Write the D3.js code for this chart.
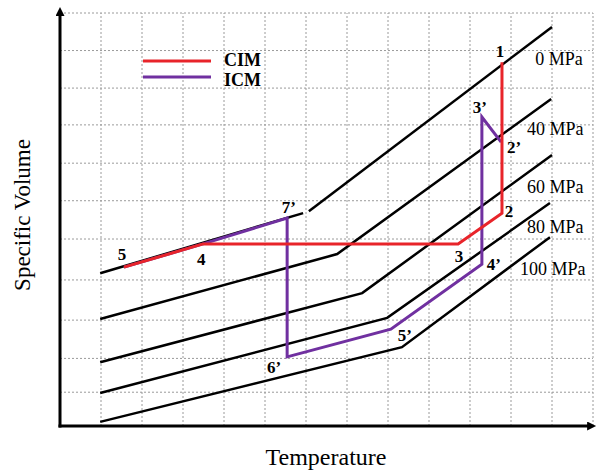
<!DOCTYPE html>
<html>
<head>
<meta charset="utf-8">
<script src="https://cdn.jsdelivr.net/npm/d3@7"></script>
<style>
  body { margin: 0; background: #fff; }
  svg { display: block; }
  text { font-family: "Liberation Serif", "Times New Roman", serif; }
</style>
</head>
<body>
<svg id="chart" width="598" height="473"></svg>
<script>
// grid levels (arbitrary units)
const gridX = [10, 20, 30, 40, 50, 60, 70, 80, 90, 100, 110, 120, 130];
const gridY = [9, 18, 28.2, 38.9, 49.8, 60, 70, 80.2, 90, 100, 110];

// isobars: each is a list of segments, each segment a list of [T, v]
const pressures = ["0 MPa", "40 MPa", "60 MPa", "80 MPa", "100 MPa"];
const isobars = [
  [[[9.8, 40.7], [59.3, 56.7]], [[60.7, 57.2], [120, 106.3]]],
  [[[9.8, 28.5], [67.6, 45.8], [119.8, 87.1]]],
  [[[9.8, 17.0], [73.7, 35.4], [120, 72.2]]],
  [[[9.8, 8.8], [79.8, 28.8], [119.5, 59.4]]],
  [[[9.8, 1.1], [83.4, 21.0], [119.5, 50.3]]]
];
const pressureLabelPos = [[115.9, 96.2], [113.9, 77.5], [113.9, 62.1], [113.9, 51.4], [112.2, 40.2]];

// CIM path: 5 -> 4 -> 3 -> 2 -> 1
const cim = [[15.6, 42.3], [34.9, 48.5], [97.1, 48.5], [107.8, 56.7], [107.8, 96.9]];
// ICM path: 5 -> 4 -> 7' -> 6' -> 5' -> 4' -> 3' -> 2'
const icm = [[15.6, 42.3], [34.9, 48.5], [55.4, 55.4], [55.4, 18.4], [80.7, 25.8], [102.9, 43.1], [102.9, 82.3], [107.6, 75.6]];

const pointLabels = ["1", "2’", "3’", "2", "3", "4’", "5’", "6’", "7’", "5", "4"];
const pointLabelPos = [[106.3, 98.3], [109.0, 72.7], [100.7, 83.4], [108.5, 55.7], [96.3, 43.7],
  [104.1, 41.6], [82.4, 22.6], [50.5, 14.1], [54.1, 56.7], [14.1, 44.2], [33.4, 42.9]];

const legendItems = [
  { label: "CIM", color: "#e8242a" },
  { label: "ICM", color: "#7030a0" }
];

const svg = d3.select("#chart");

const x = d3.scaleLinear().domain([0, 130]).range([60, 593]);
const y = d3.scaleLinear().domain([0, 110]).range([426, 13]);

const line = d3.line().x(d => x(d[0])).y(d => y(d[1]));

// grid
svg.append("g")
  .selectAll("line")
  .data(gridX)
  .join("line")
  .attr("x1", d => x(d)).attr("x2", d => x(d))
  .attr("y1", y(0)).attr("y2", y(110))
  .attr("stroke", "#9a9a9a")
  .attr("stroke-width", 1)
  .attr("stroke-dasharray", "2,2");

svg.append("g")
  .selectAll("line")
  .data(gridY)
  .join("line")
  .attr("x1", x(0)).attr("x2", x(130))
  .attr("y1", d => y(d)).attr("y2", d => y(d))
  .attr("stroke", "#9a9a9a")
  .attr("stroke-width", 1)
  .attr("stroke-dasharray", "2,2");

// isobars
isobars.forEach(segs => {
  segs.forEach(seg => {
    svg.append("path")
      .attr("d", line(seg))
      .attr("fill", "none")
      .attr("stroke", "#000")
      .attr("stroke-width", 2.5);
  });
});

svg.selectAll(".plabel")
  .data(pressures)
  .join("text")
  .attr("class", "plabel")
  .attr("x", (d, i) => x(pressureLabelPos[i][0]))
  .attr("y", (d, i) => y(pressureLabelPos[i][1]))
  .style("font-size", "18px")
  .text(d => d);

// process paths (ICM under CIM)
svg.append("path")
  .attr("d", line(icm))
  .attr("fill", "none")
  .attr("stroke", legendItems[1].color)
  .attr("stroke-width", 3)
  .attr("stroke-linejoin", "miter");

svg.append("path")
  .attr("d", line(cim))
  .attr("fill", "none")
  .attr("stroke", legendItems[0].color)
  .attr("stroke-width", 3)
  .attr("stroke-linejoin", "miter");

svg.selectAll(".ptlabel")
  .data(pointLabels)
  .join("text")
  .attr("class", "ptlabel")
  .attr("x", (d, i) => x(pointLabelPos[i][0]))
  .attr("y", (d, i) => y(pointLabelPos[i][1]))
  .style("font-size", "17px")
  .style("font-weight", "bold")
  .text(d => d);

// axes with arrows
svg.append("defs").append("marker")
  .attr("id", "arrow")
  .attr("viewBox", "0 0 10 10")
  .attr("refX", 1).attr("refY", 5)
  .attr("markerWidth", 3.3).attr("markerHeight", 3)
  .attr("orient", "auto")
  .append("path")
  .attr("d", "M0,0 L10,5 L0,10 Z")
  .attr("fill", "#000");

svg.append("path")
  .attr("d", `M${x(0)},${y(0) + 1.5} L${x(0)},15`)
  .attr("stroke", "#000")
  .attr("stroke-width", 3)
  .attr("marker-end", "url(#arrow)");

svg.append("path")
  .attr("d", `M${x(0) - 1.5},${y(0)} L588,${y(0)}`)
  .attr("stroke", "#000")
  .attr("stroke-width", 3)
  .attr("marker-end", "url(#arrow)");

// legend
svg.selectAll(".leg-line")
  .data(legendItems)
  .join("line")
  .attr("class", "leg-line")
  .attr("x1", 143).attr("x2", 211)
  .attr("y1", (d, i) => 61 + i * 16).attr("y2", (d, i) => 61 + i * 16)
  .attr("stroke", d => d.color)
  .attr("stroke-width", 3);

svg.selectAll(".leg-text")
  .data(legendItems)
  .join("text")
  .attr("class", "leg-text")
  .attr("x", 224)
  .attr("y", (d, i) => 66 + i * 20)
  .style("font-size", "18px")
  .style("font-weight", "bold")
  .text(d => d.label);

// axis titles
svg.append("text")
  .attr("x", 326)
  .attr("y", 465)
  .attr("text-anchor", "middle")
  .style("font-size", "24px")
  .text("Temperature");

svg.append("text")
  .attr("transform", "rotate(-90)")
  .attr("x", -215)
  .attr("y", 30)
  .attr("text-anchor", "middle")
  .style("font-size", "23px")
  .text("Specific Volume");
</script>
</body>
</html>
